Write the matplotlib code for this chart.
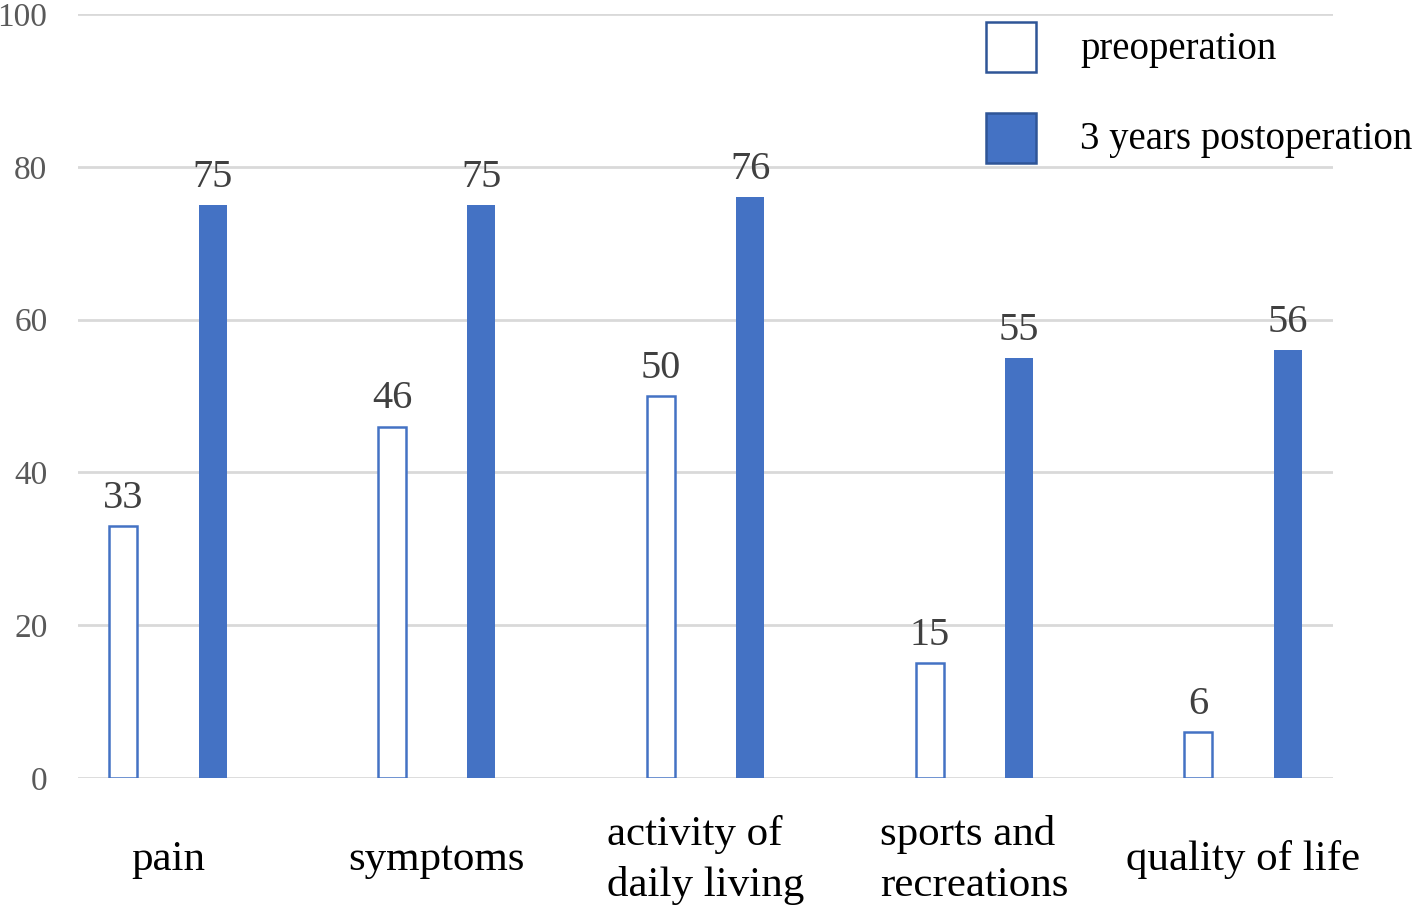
import numpy as np
import matplotlib
matplotlib.use('Agg')
import matplotlib.pyplot as plt
from matplotlib.patches import Rectangle

# KOOS subscale scores
categories = ['pain', 'symptoms', 'activity of\ndaily living', 'sports and\nrecreations', 'quality of life']
preop = [33, 46, 50, 15, 6]
postop = [75, 75, 76, 55, 56]
series_names = ['preoperation', '3 years postoperation']

plt.rcParams['font.family'] = ['Liberation Serif', 'DejaVu Serif']

W, H = 1418, 908
fig = plt.figure(figsize=(W / 100, H / 100), dpi=100)
ax = fig.add_axes([78 / W, 1 - 778 / H, (1333 - 78) / W, (778 - 14) / H])

x = np.arange(len(categories))
w = 0.104
off = 0.166
blue = '#4472C4'

ax.bar(x - off, preop, w, facecolor='white', edgecolor=blue, linewidth=1.8, zorder=3)
ax.bar(x + off, postop, w, color=blue, zorder=3)

for xi, v in zip(x - off, preop):
    ax.text(xi, v + 1.2, str(v), ha='center', va='bottom', fontsize=29, color='#404040')
for xi, v in zip(x + off, postop):
    ax.text(xi, v + 1.2, str(v), ha='center', va='bottom', fontsize=29, color='#404040')

ax.set_xlim(-0.335, 4.335)
ax.set_ylim(0, 100)
ax.set_yticks(np.arange(0, 101, 20))
ax.yaxis.grid(True, color='#D9D9D9', linewidth=2)
ax.set_axisbelow(True)
for s in ax.spines.values():
    s.set_visible(False)
ax.tick_params(axis='y', length=0, pad=22, labelsize=24, labelcolor='#595959')
ax.tick_params(axis='x', length=0, pad=59, labelsize=31, labelcolor='black')
ax.set_xticks(x)
ax.set_xticklabels(categories)
for lab in ax.get_xticklabels():
    lab.set_verticalalignment('center')
    lab.set_multialignment('left')
    lab.set_linespacing(1.4)

# legend drawn by hand, outside the axes on the right
leg_style = [dict(facecolor='white', edgecolor='#2F5597'), dict(facecolor=blue, edgecolor='#2F5597')]
for i, (name, st) in enumerate(zip(series_names, leg_style)):
    top = 22 + i * 91
    fig.add_artist(Rectangle((986 / W, 1 - (top + 50) / H), 50 / W, 50 / H,
                             transform=fig.transFigure, linewidth=1.8, **st))
    fig.text(1080 / W, 1 - (top + 27) / H, name, ha='left', va='center', fontsize=28, color='black')

fig.savefig('out.png', dpi=100, facecolor='white')
